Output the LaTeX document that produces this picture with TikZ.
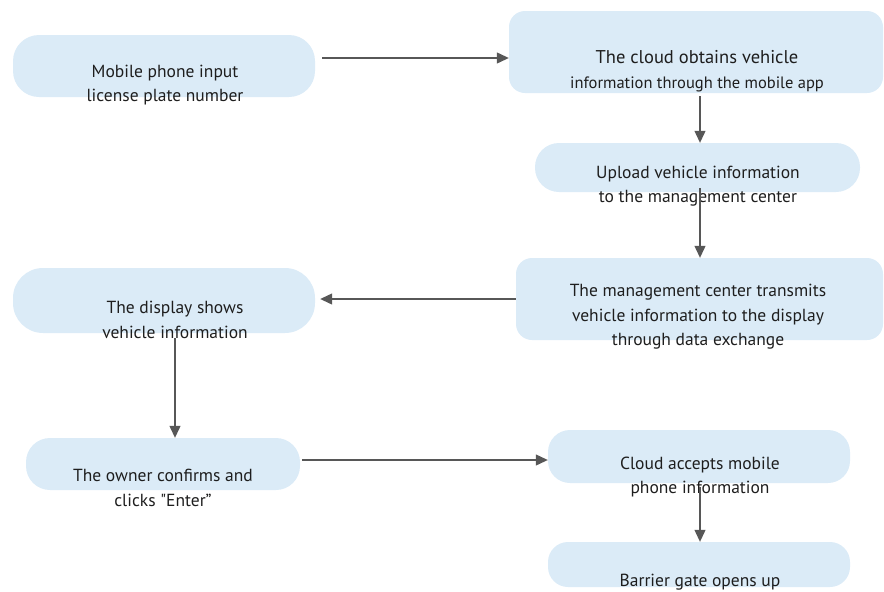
\documentclass[tikz,border=0pt]{standalone}
\usepackage{fontspec}
\setmainfont{PT Sans}
\newfontfamily\plainquote{PT Sans}[Ligatures=ResetAll]
\usetikzlibrary{arrows.meta}
\definecolor{boxblue}{HTML}{DBEBF7}
\definecolor{arrgray}{HTML}{575757}
\definecolor{txtgray}{HTML}{1E1E1E}
\tikzset{
  box/.style={fill=boxblue, draw=none, inner sep=0pt},
  lbl/.style={align=center, text=txtgray, inner sep=0pt,
    font=\fontsize{17.5}{24.5}\selectfont},
  arr/.style={draw=arrgray, line width=1.2pt,
    -{Triangle[length=12pt,width=11pt]}}
}
\begin{document}
\begin{tikzpicture}[x=1pt,y=-1pt]
\useasboundingbox (0,0) rectangle (884,592);
% boxes
\node[box, minimum width=302pt, minimum height=62pt, rounded corners=26pt] (b1) at (164,66) {};
\node[box, minimum width=374pt, minimum height=82pt, rounded corners=16pt] (b2) at (696,52) {};
\node[box, minimum width=325pt, minimum height=49pt, rounded corners=24pt] (b3) at (697.5,167.5) {};
\node[box, minimum width=367pt, minimum height=82pt, rounded corners=16pt] (b4) at (699.5,299) {};
\node[box, minimum width=302pt, minimum height=65pt, rounded corners=30pt] (b5) at (164,300.5) {};
\node[box, minimum width=274pt, minimum height=52pt, rounded corners=24pt] (b6) at (163,464) {};
\node[box, minimum width=302pt, minimum height=53pt, rounded corners=22pt] (b7) at (699,456.5) {};
\node[box, minimum width=302pt, minimum height=45pt, rounded corners=20pt] (b8) at (699,564.5) {};
% texts
\node[lbl] (t1) at (165,85) {Mobile phone input\\license plate number};
\node[lbl] (t2) at (697,71) {{\fontsize{18.5}{24.5}\selectfont The cloud obtains vehicle}\\{\fontsize{16.5}{24.5}\selectfont information through the mobile app}};
\node[lbl] (t3) at (698,186) {Upload vehicle information\\to the management center};
\node[lbl] (t4) at (698,317) {The management center transmits\\vehicle information to the display\\through data exchange};
\node[lbl] (t5) at (175,320) {The display shows\\vehicle information};
\node[lbl] (t6) at (163,488) {The owner confirms and\\clicks {\plainquote"}Enter''};
\node[lbl] (t7) at (700,477) {Cloud accepts mobile\\phone information};
\node[lbl] (t8) at (700,582) {Barrier gate opens up};
% connectors
\draw[arr] ([xshift=7pt,yshift=8pt]b1.east) -- ([yshift=8pt]b1.east -| b2.west);
\draw[arr] ([xshift=4pt,yshift=-3pt]b2.south) -- ([xshift=4pt]b2.south |- b3.north);
\draw[arr] ([xshift=2.5pt,yshift=4pt]b3.south) -- ([xshift=2.5pt]b3.south |- b4.north);
\draw[arr] (b4.west) -- ([xshift=5pt]b4.west -| b5.east);
\draw[arr] ([xshift=11pt,yshift=-5pt]b5.south) -- ([xshift=11pt]b5.south |- b6.north);
\draw[arr] ([xshift=2pt,yshift=4pt]b6.east) -- ([yshift=4pt]b6.east -| b7.west);
\draw[arr] ([xshift=1pt,yshift=-4pt]b7.south) -- ([xshift=1pt]b7.south |- b8.north);
\end{tikzpicture}
\end{document}
